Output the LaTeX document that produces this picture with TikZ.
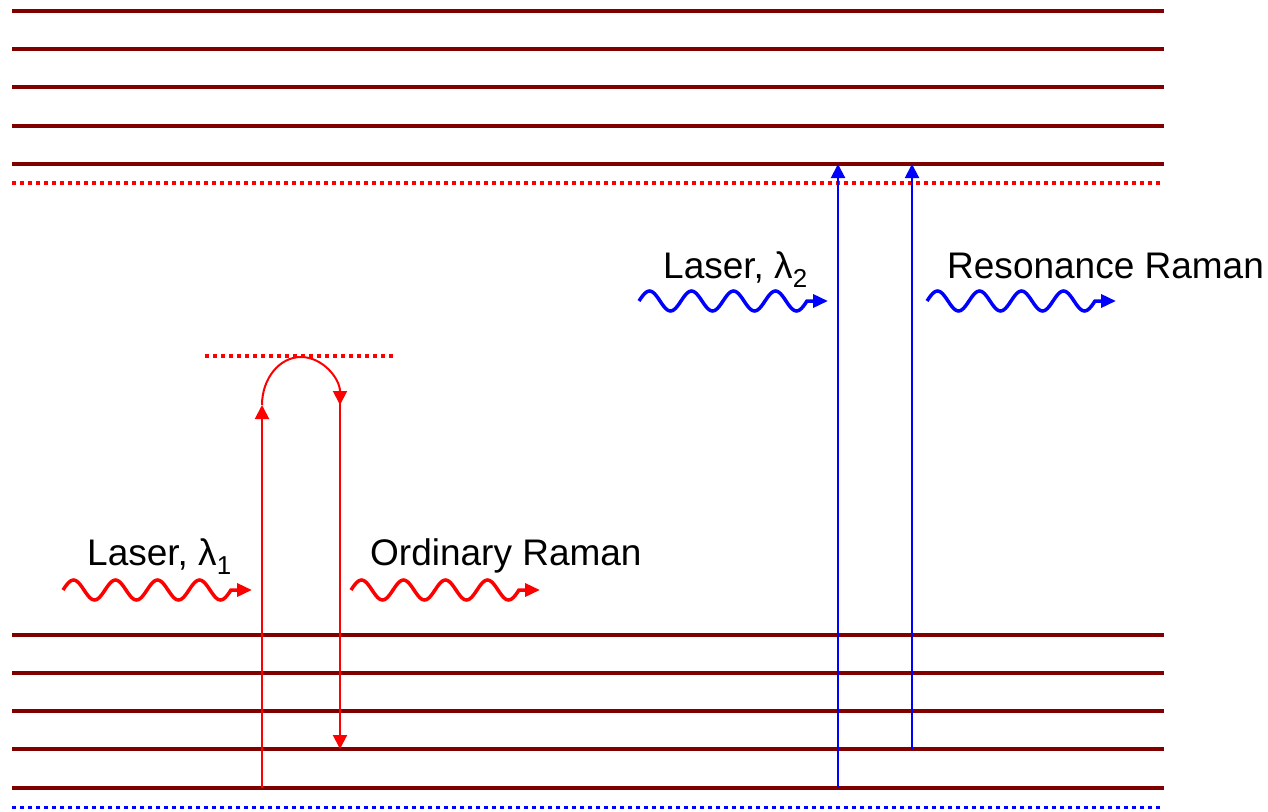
\documentclass[tikz,border=0pt]{standalone}
\usepackage{fontspec}
\setmainfont{Liberation Sans}
\usetikzlibrary{arrows.meta}
\definecolor{levelred}{RGB}{128,0,0}

\begin{document}
\begin{tikzpicture}[x=1pt,y=-1pt,
    lvl/.style={draw=levelred, line width=3.5pt},
    virtual/.style={line width=4pt, dash pattern=on 4pt off 4pt},
    trans/.style={line width=2pt, -{Triangle[length=14pt,width=14pt]}},
    photon/.style={line width=3.5pt, -{Triangle[length=15pt,width=13pt]}},
    txt/.style={anchor=base west, inner sep=0pt, font=\fontsize{37}{44}\selectfont}]
  \useasboundingbox (0,0) rectangle (1268,811);
  % energy levels
  \foreach \y in {11,49,87,126,164,635,673,711,749,788}
    \draw[lvl] (12,\y) -- (1164,\y);
  \draw[virtual, red] (12,183) -- (1160,183);
  \draw[virtual, blue, line width=3pt] (12,807) -- (1160,807);
  \draw[virtual, red] (205,356) -- (393,356);
  % ordinary raman
  \coordinate (g0) at (262,788);
  \coordinate (up) at (262,405);
  \coordinate (dn) at (340,403);
  \coordinate (g1) at (340,749);
  \draw[trans, red] (g0) -- (up);
  \draw[trans, red] (up) arc[start angle=180, end angle=360, x radius=39, y radius=48];
  \draw[trans, red] (dn) -- (g1);
  % resonance raman
  \coordinate (g2) at (838,788);
  \coordinate (e2) at (838,164);
  \coordinate (g3) at (912,749);
  \coordinate (e3) at (912,164);
  \draw[trans, blue] (g2) -- (e2);
  \draw[trans, blue] (g3) -- (e3);
  % photons
  \coordinate (p1a) at (63,590);  \coordinate (p1b) at (252,590);
  \coordinate (p2a) at (351,590); \coordinate (p2b) at (540,590);
  \coordinate (p3a) at (639,301); \coordinate (p3b) at (828,301);
  \coordinate (p4a) at (927,301); \coordinate (p4b) at (1116,301);
  \foreach \s/\e/\c in {p1a/p1b/red, p2a/p2b/red, p3a/p3b/blue, p4a/p4b/blue}
    \draw[photon, \c, shift={(\s)}] plot[domain=0:168, samples=97, smooth]
      (\x,{-10*sin(\x/42*360)}) -- (\e);
  \node[txt] (laser1) at (87,565) {Laser, λ\textsubscript{1}};
  \node[txt] (ordinary) at (370,565) {Ordinary Raman};
  \node[txt] (laser2) at (663,278) {Laser, λ\textsubscript{2}};
  \node[txt] (resonance) at (947,278) {Resonance Raman};
\end{tikzpicture}
\end{document}
